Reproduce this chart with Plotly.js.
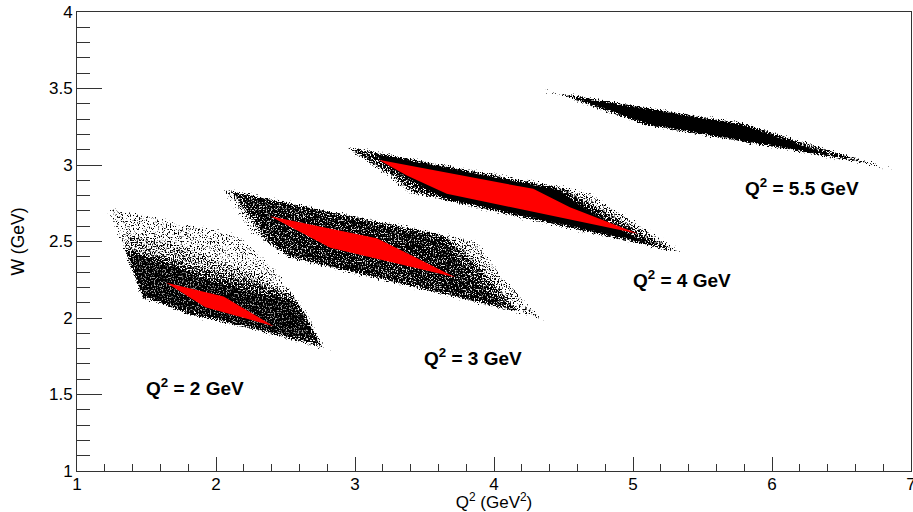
<!DOCTYPE html>
<html>
<head>
<meta charset="utf-8">
<script src="https://cdn.plot.ly/plotly-3.0.1.min.js"></script>
<style>html,body{margin:0;padding:0;background:#fff}#c{width:913px;height:512px}</style>
</head>
<body>
<div id="c"></div>
<script>
// Region outlines, in data units (Q2 in GeV^2, W in GeV)
var q2_2_faint_x = [1.219,2.103,2.175,2.412,2.556,2.771,2.822,1.471,1.334];
var q2_2_faint_y = [2.722,2.552,2.526,2.330,2.160,1.807,1.781,2.127,2.454];
var q2_2_soft_x = [1.334,1.693,2.053,2.340,2.584,2.771,1.471];
var q2_2_soft_y = [2.552,2.487,2.363,2.265,2.114,1.807,2.127];
var q2_2_mid_x = [1.334,1.578,1.816,2.053,2.297,2.534,2.656,2.771,1.471];
var q2_2_mid_y = [2.461,2.408,2.343,2.291,2.232,2.160,2.029,1.807,2.127];
var q2_2_core_x = [1.348,1.578,1.816,2.103,2.340,2.556,2.656,2.735,2.534,1.816,1.550,1.478];
var q2_2_core_y = [2.441,2.376,2.297,2.212,2.160,2.114,1.984,1.853,1.873,2.016,2.114,2.134];
var q2_2_red_x = [1.643,2.055,2.414,1.923];
var q2_2_red_y = [2.230,2.141,1.946,2.071];

var q2_3_faint_x = [2.055,3.636,3.876,4.065,4.352,4.258,2.510,2.247,2.103];
var q2_3_faint_y = [2.844,2.550,2.495,2.267,1.984,2.017,2.394,2.572,2.768];
var q2_3_mid_x = [2.103,3.634,3.806,3.993,4.187,2.534,2.369,2.225];
var q2_3_mid_y = [2.833,2.539,2.422,2.225,2.036,2.396,2.493,2.683];
var q2_3_core_x = [2.139,3.634,3.734,3.950,4.065,2.584,2.412,2.268];
var q2_3_core_y = [2.820,2.526,2.395,2.180,2.069,2.389,2.493,2.657];
var q2_3_red_x = [2.390,3.157,3.720,2.822];
var q2_3_red_y = [2.665,2.522,2.267,2.459];

var q2_4_faint_x = [2.917,4.498,4.690,5.025,5.372,5.214,3.612,3.396,3.202,3.016];
var q2_4_faint_y = [3.123,2.855,2.812,2.616,2.420,2.454,2.781,2.814,2.951,3.062];
var q2_4_mid_x = [2.964,4.496,4.740,5.028,5.315,3.634,3.447,3.253,3.059];
var q2_4_mid_y = [3.116,2.846,2.722,2.572,2.428,2.768,2.814,2.945,3.042];
var q2_4_core_x = [3.087,4.453,4.668,4.977,5.214,3.648,3.518,3.274];
var q2_4_core_y = [3.095,2.846,2.716,2.552,2.461,2.775,2.833,2.964];
var q2_4_red_x = [3.169,4.282,4.546,5.037,3.660,3.373];
var q2_4_red_y = [3.034,2.844,2.724,2.550,2.812,2.931];

var q2_55_mid_x = [4.343,5.789,6.033,6.867,6.414,5.099,4.740,4.496];
var q2_55_mid_y = [3.487,3.273,3.206,2.971,3.056,3.258,3.369,3.454];
var q2_55_core_x = [4.474,5.789,5.983,6.558,6.343,5.120,4.812];
var q2_55_core_y = [3.469,3.271,3.206,3.029,3.062,3.258,3.356];

var labelTexts = ['Q<sup>2</sup> = 2 GeV','Q<sup>2</sup> = 3 GeV','Q<sup>2</sup> = 4 GeV','Q<sup>2</sup> = 5.5 GeV'];
var labelX = [1.492,3.490,4.993,5.798];
var labelY = [1.546,1.748,2.252,2.853];

var FONT = 'Liberation Sans, Arial, sans-serif';
var INK = '#333333';

function region(x, y, color) {
  return {x:x, y:y, type:'scatter', mode:'none', fill:'toself', fillcolor:color,
          hoverinfo:'skip', showlegend:false};
}
function a(v){ return 'rgba(0,0,0,'+v+')'; }
var blackTraces = [
  region(q2_2_faint_x,q2_2_faint_y,a(0.42)), region(q2_2_soft_x,q2_2_soft_y,a(0.35)),
  region(q2_2_mid_x,q2_2_mid_y,a(0.5)), region(q2_2_core_x,q2_2_core_y,a(0.85)),
  region(q2_3_faint_x,q2_3_faint_y,a(0.5)), region(q2_3_mid_x,q2_3_mid_y,a(0.65)), region(q2_3_core_x,q2_3_core_y,a(0.8)),
  region(q2_4_faint_x,q2_4_faint_y,a(0.55)), region(q2_4_mid_x,q2_4_mid_y,a(0.7)), region(q2_4_core_x,q2_4_core_y,a(0.95)),
  region(q2_55_mid_x,q2_55_mid_y,a(0.85)), region(q2_55_core_x,q2_55_core_y,a(1))
];
var redTraces = [
  region(q2_2_red_x,q2_2_red_y,'#ff0000'), region(q2_3_red_x,q2_3_red_y,'#ff0000'), region(q2_4_red_x,q2_4_red_y,'#ff0000')
];
var traces = blackTraces.concat(redTraces);

var annotations = labelTexts.map(function(t,i){
  return {text:'<b>'+t+'</b>', x:labelX[i], y:labelY[i], xref:'x', yref:'y', xanchor:'left', yanchor:'middle',
          showarrow:false, font:{family:FONT, size:19, color:'#000'}, borderpad:0};
});

var layout = {
  width:913, height:512, paper_bgcolor:'#fff', plot_bgcolor:'#fff',
  margin:{l:76.5, r:1.5, t:11.5, b:41.3},
  showlegend:false,
  font:{family:FONT, color:'#000'},
  xaxis:{range:[1,7], dtick:1, tick0:1, ticks:'inside', ticklen:14, tickwidth:1, tickcolor:INK,
    showgrid:false, zeroline:false, showline:true, mirror:true, linecolor:INK, linewidth:1,
    ticklabeloverflow:'allow', ticklabelstandoff:-2,
    tickfont:{family:FONT,size:17,color:'#000'},
    minor:{dtick:0.2, tick0:1, ticks:'inside', ticklen:7, tickwidth:1, tickcolor:INK, showgrid:false},
    title:{text:'Q<sup>2</sup> (GeV<sup>2</sup>)', font:{family:FONT,size:17,color:'#000'}, standoff:0}},
  yaxis:{range:[1,4], dtick:0.5, tick0:1, ticks:'inside', ticklen:25, tickwidth:1, tickcolor:INK,
    showgrid:false, zeroline:false, showline:true, mirror:true, linecolor:INK, linewidth:1,
    ticklabeloverflow:'allow',
    tickfont:{family:FONT,size:17,color:'#000'},
    minor:{dtick:0.1, tick0:1, ticks:'inside', ticklen:13, tickwidth:1, tickcolor:INK, showgrid:false},
    title:{text:'W (GeV)', font:{family:FONT,size:17.5,color:'#000'}, standoff:19}},
  annotations:annotations
};
Plotly.newPlot('c', traces, layout, {displayModeBar:false, staticPlot:true}).then(function(gd){
  // Stipple texture: turn the density of the black regions into fine dots, as in the original scatter.
  var NS='http://www.w3.org/2000/svg';
  var svg=gd.querySelector('.main-svg');
  var defs=document.createElementNS(NS,'defs');
  defs.innerHTML='<filter id="stipple" filterUnits="userSpaceOnUse" x="0" y="0" width="913" height="512">'+
    '<feGaussianBlur in="SourceAlpha" stdDeviation="0.8" result="d"/>'+
    '<feTurbulence type="fractalNoise" baseFrequency="0.75" numOctaves="2" seed="4" result="n"/>'+
    '<feComposite in="d" in2="n" operator="arithmetic" k1="0" k2="0.42" k3="1" k4="-0.74" result="m"/>'+
    '<feColorMatrix in="m" type="matrix" values="0 0 0 0 0  0 0 0 0 0  0 0 0 0 0  0 0 0 9 0" result="dots"/>'+
    '<feColorMatrix in="d" type="matrix" values="0 0 0 0 0  0 0 0 0 0  0 0 0 0 0  0 0 0 25 0" result="mask"/>'+
    '<feComposite in="dots" in2="mask" operator="in" result="masked"/>'+
    '<feColorMatrix in="d" type="matrix" values="0 0 0 0 0  0 0 0 0 0  0 0 0 0 0  0 0 0 30 -28.8" result="solid"/>'+
    '<feMerge><feMergeNode in="masked"/><feMergeNode in="solid"/></feMerge>'+
    '</filter>';
  svg.insertBefore(defs,svg.firstChild);
  var layer=gd.querySelector('.scatterlayer');
  var nodes=layer.querySelectorAll('.trace');
  var g=document.createElementNS(NS,'g');
  g.setAttribute('filter','url(#stipple)');
  layer.insertBefore(g,layer.firstChild);
  for(var i=0;i<blackTraces.length;i++){ g.appendChild(nodes[i]); }
});
</script>
</body>
</html>
